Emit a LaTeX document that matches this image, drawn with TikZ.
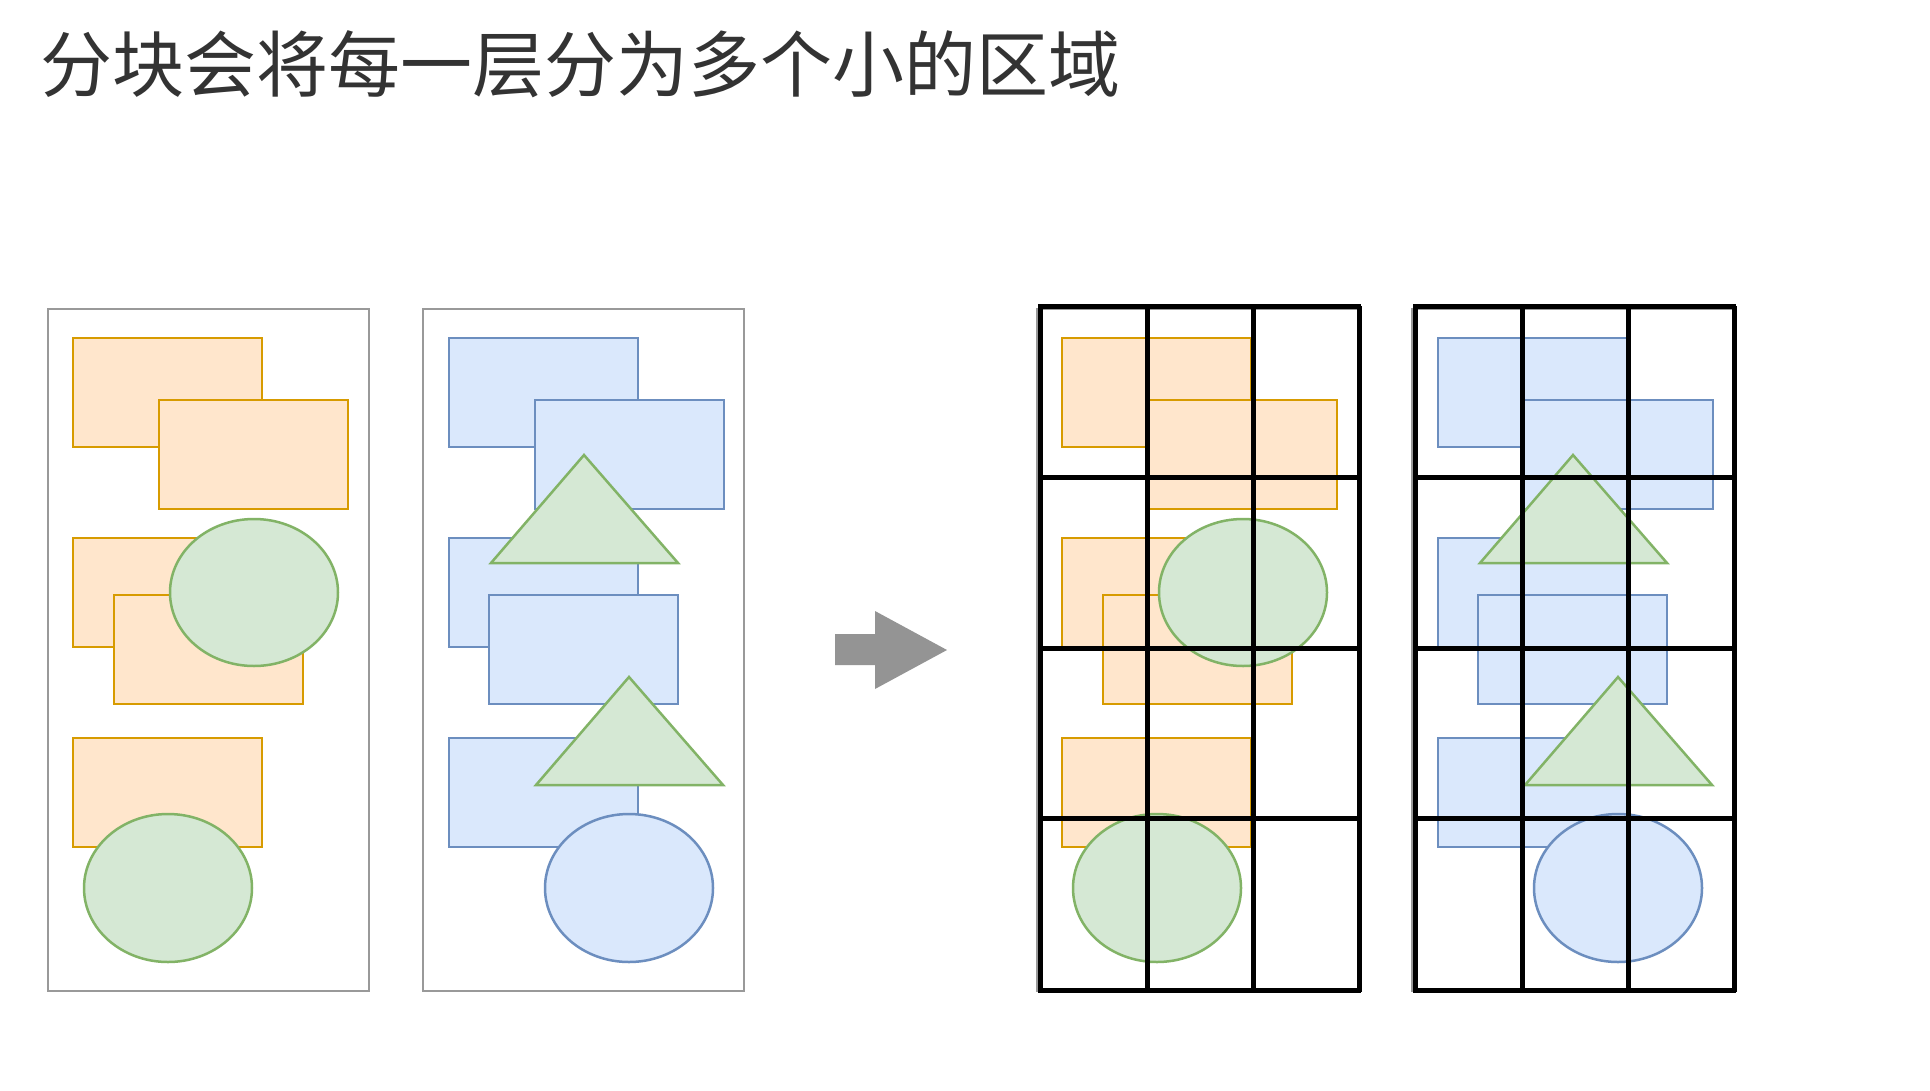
\documentclass[tikz,border=0pt]{standalone}
\usepackage{fontspec}
\newfontfamily\cjk{Noto Sans CJK SC}
\definecolor{orS}{HTML}{D79B00}
\definecolor{orF}{HTML}{FFE6CC}
\definecolor{blS}{HTML}{6C8EBF}
\definecolor{blF}{HTML}{DAE8FC}
\definecolor{grS}{HTML}{82B366}
\definecolor{grF}{HTML}{D5E8D4}
\definecolor{frameC}{HTML}{999999}
\definecolor{arrowC}{HTML}{949494}
\definecolor{titleC}{HTML}{333333}
\tikzset{
  orshape/.style={draw=orS, fill=orF, line width=2.5pt},
  blshape/.style={draw=blS, fill=blF, line width=2.5pt},
  grshape/.style={draw=grS, fill=grF, line width=2.5pt, line join=miter},
  panelframe/.style={draw=frameC, line width=2.5pt, fill=white},
  gridline/.style={draw=black, line width=5pt},
}
\newcommand{\layerA}{%
  \path[panelframe] (48,309) rectangle (369,991);
  \path[orshape] (73,338) rectangle (262,447);
  \path[orshape] (159,400) rectangle (348,509);
  \path[orshape] (73,538) rectangle (262,647);
  \path[orshape] (114,595) rectangle (303,704);
  \path[grshape] (254,592.5) ellipse [x radius=84pt, y radius=73.5pt];
  \path[orshape] (73,738) rectangle (262,847);
  \path[grshape] (168,888) ellipse [x radius=84pt, y radius=74pt];
}
\newcommand{\layerB}{%
  \path[panelframe] (423,309) rectangle (744,991);
  \path[blshape] (449,338) rectangle (638,447);
  \path[blshape] (535,400) rectangle (724,509);
  \path[blshape] (449,538) rectangle (638,647);
  \path[grshape] (584,455) -- (678,563) -- (491,563) -- cycle;
  \path[blshape] (489,595) rectangle (678,704);
  \path[blshape] (449,738) rectangle (638,847);
  \path[grshape] (629,677) -- (723,785) -- (536,785) -- cycle;
  \path[blshape] (629,888) ellipse [x radius=84pt, y radius=74pt];
}
\newcommand{\gridlines}{%
  \foreach \gx in {1040,1147,1253,1359} {\path[gridline] (\gx,306) -- (\gx,992);}
  \foreach \gy in {306,477,648,818,990} {\path[gridline] (1038,\gy) -- (1361,\gy);}
}
\begin{document}
\begin{tikzpicture}[x=1pt,y=-1pt]
\useasboundingbox (0,0) rectangle (1930,1090);
\path[fill=white] (0,0) rectangle (1930,1090);
\node[anchor=west, inner sep=0pt, text=titleC, font=\cjk\fontsize{72pt}{86pt}\selectfont] (title) at (40,64.5) {分块会将每一层分为多个小的区域};
% left: original layers
\layerA
\layerB
% arrow
\path[fill=arrowC] (835,634) -- (875,634) -- (875,611) -- (947,650) -- (875,689) -- (875,665) -- (835,665) -- cycle;
% right: tiled layers
\begin{scope}[xshift=989pt]
  \layerA
\end{scope}
\begin{scope}[xshift=989pt]
  \layerB
\end{scope}
\gridlines
\begin{scope}[xshift=375pt]
  \gridlines
\end{scope}
\end{tikzpicture}
\end{document}
